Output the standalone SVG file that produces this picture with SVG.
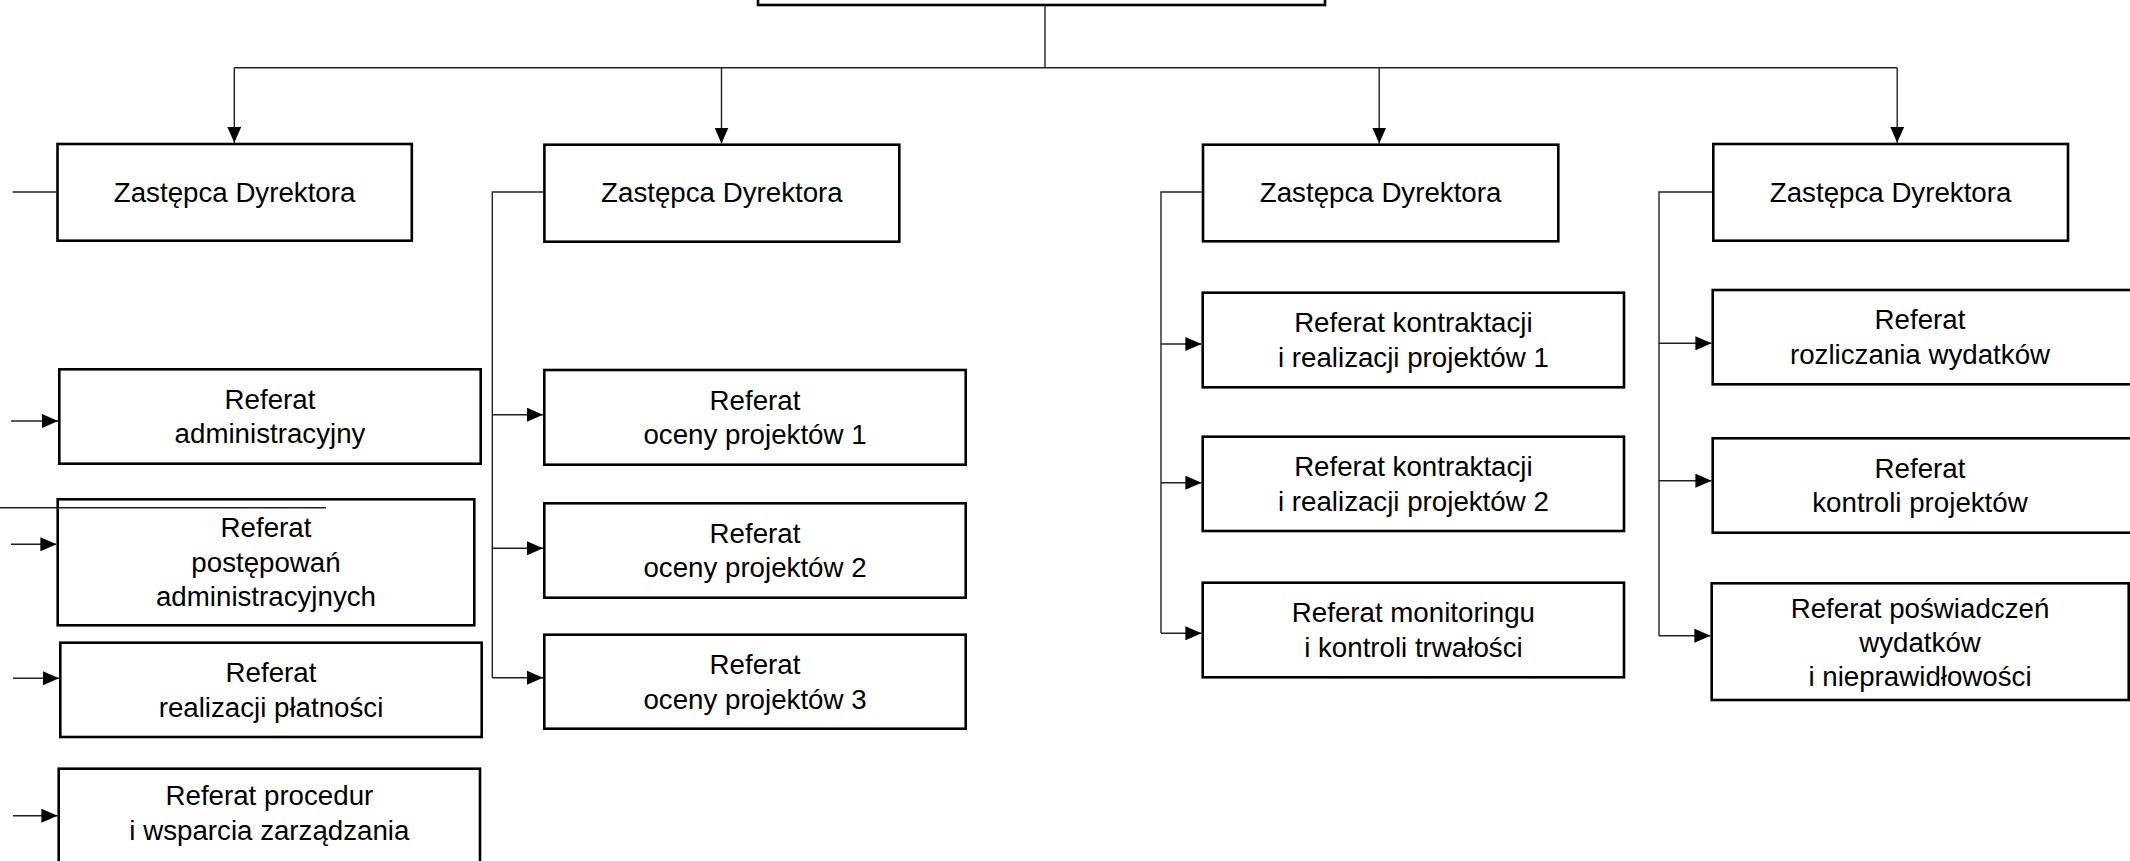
<svg xmlns="http://www.w3.org/2000/svg" width="2130" height="861" viewBox="0 0 2130 861">
<style>
.box{fill:#fff;stroke:#000;stroke-width:2.6}
.ln{fill:none;stroke:#222;stroke-width:1.4}
.t{font-family:"Liberation Sans",Arial,sans-serif;font-size:27.7px;fill:#000;text-anchor:middle}
</style>
<defs>
<marker id="ah" markerUnits="userSpaceOnUse" markerWidth="16" markerHeight="14" refX="16" refY="7" orient="auto">
<path d="M0,0 L16,7 L0,14 z" fill="#000"/>
</marker>
</defs>
<rect width="2130" height="861" fill="#fff"/>
<g id="top"><rect class="box" x="758" y="-60" width="567" height="65"/></g>
<g id="z1"><rect class="box" x="57.5" y="144" width="354.3" height="96.7"/><text class="t" x="234.6" y="202">Zastępca Dyrektora</text></g>
<g id="z2"><rect class="box" x="544.4" y="144.7" width="354.9" height="97"/><text class="t" x="721.9" y="202">Zastępca Dyrektora</text></g>
<g id="z3"><rect class="box" x="1203" y="144.7" width="355.3" height="96.6"/><text class="t" x="1380.6" y="202">Zastępca Dyrektora</text></g>
<g id="z4"><rect class="box" x="1713.3" y="144" width="354.7" height="96.7"/><text class="t" x="1890.6" y="202">Zastępca Dyrektora</text></g>
<g id="r-adm"><rect class="box" x="59.3" y="369.3" width="421.4" height="94.4"/><text class="t"><tspan x="270" y="408.7">Referat</tspan><tspan x="270" y="443.3">administracyjny</tspan></text></g>
<g id="r-post"><rect class="box" x="57.7" y="499.3" width="416.6" height="126"/><text class="t"><tspan x="266" y="537.2">Referat</tspan><tspan x="266" y="571.8">postępowań</tspan><tspan x="266" y="606.4">administracyjnych</tspan></text></g>
<g id="r-plat"><rect class="box" x="60.3" y="642.7" width="421.4" height="94.3"/><text class="t"><tspan x="271" y="682">Referat</tspan><tspan x="271" y="716.6">realizacji płatności</tspan></text></g>
<g id="r-proc"><rect class="box" x="58.7" y="768.7" width="421.3" height="110"/><text class="t"><tspan x="269.4" y="805">Referat procedur</tspan><tspan x="269.4" y="840">i wsparcia zarządzania</tspan></text></g>
<g id="o1"><rect class="box" x="544.3" y="370" width="421.4" height="94.7"/><text class="t"><tspan x="755" y="409.6">Referat</tspan><tspan x="755" y="444.2">oceny projektów 1</tspan></text></g>
<g id="o2"><rect class="box" x="544.3" y="503.3" width="421.4" height="94.4"/><text class="t"><tspan x="755" y="542.7">Referat</tspan><tspan x="755" y="577.3">oceny projektów 2</tspan></text></g>
<g id="o3"><rect class="box" x="544.3" y="634.7" width="421.4" height="94"/><text class="t"><tspan x="755" y="673.9">Referat</tspan><tspan x="755" y="708.5">oceny projektów 3</tspan></text></g>
<g id="k1"><rect class="box" x="1202.7" y="292.7" width="421.3" height="94.6"/><text class="t"><tspan x="1413.4" y="332.2">Referat kontraktacji</tspan><tspan x="1413.4" y="366.8">i realizacji projektów 1</tspan></text></g>
<g id="k2"><rect class="box" x="1202.7" y="436.7" width="421.3" height="94.3"/><text class="t"><tspan x="1413.4" y="476">Referat kontraktacji</tspan><tspan x="1413.4" y="510.6">i realizacji projektów 2</tspan></text></g>
<g id="mon"><rect class="box" x="1202.7" y="582.7" width="421.3" height="94.6"/><text class="t"><tspan x="1413.4" y="622.2">Referat monitoringu</tspan><tspan x="1413.4" y="656.8">i kontroli trwałości</tspan></text></g>
<g id="rozl"><rect class="box" x="1712.7" y="290" width="430" height="94.3"/><text class="t"><tspan x="1920" y="329.4">Referat</tspan><tspan x="1920" y="364">rozliczania wydatków</tspan></text></g>
<g id="kontr"><rect class="box" x="1712.7" y="438.3" width="430" height="94.4"/><text class="t"><tspan x="1920" y="477.7">Referat</tspan><tspan x="1920" y="512.3">kontroli projektów</tspan></text></g>
<g id="posw"><rect class="box" x="1711.7" y="583.3" width="417" height="116.7"/><text class="t"><tspan x="1920" y="617.5">Referat poświadczeń</tspan><tspan x="1920" y="651.6">wydatków</tspan><tspan x="1920" y="685.5">i nieprawidłowości</tspan></text></g>
<g id="connectors">
<path class="ln" d="M1045,6.3 V67.7"/>
<path class="ln" d="M234.3,67.7 H1897.2"/>
<path class="ln" d="M234.3,67.7 V142.8" marker-end="url(#ah)"/>
<path class="ln" d="M721.5,67.7 V143.5" marker-end="url(#ah)"/>
<path class="ln" d="M1379.2,67.7 V143.5" marker-end="url(#ah)"/>
<path class="ln" d="M1897.2,67.7 V142.8" marker-end="url(#ah)"/>
<path class="ln" d="M12.6,192 H56.2"/>
<path class="ln" d="M0,507.7 H326"/>
<path class="ln" d="M11,421 H58" marker-end="url(#ah)"/>
<path class="ln" d="M11,544.3 H56.4" marker-end="url(#ah)"/>
<path class="ln" d="M13,678.3 H59" marker-end="url(#ah)"/>
<path class="ln" d="M13,815.7 H57.4" marker-end="url(#ah)"/>
<path class="ln" d="M543.1,192 H492.3 V677.7"/>
<path class="ln" d="M492.3,414.7 H543" marker-end="url(#ah)"/>
<path class="ln" d="M492.3,548.3 H543" marker-end="url(#ah)"/>
<path class="ln" d="M492.3,677.7 H543" marker-end="url(#ah)"/>
<path class="ln" d="M1201.7,192 H1161 V633.3"/>
<path class="ln" d="M1161,344 H1201.4" marker-end="url(#ah)"/>
<path class="ln" d="M1161,482.7 H1201.4" marker-end="url(#ah)"/>
<path class="ln" d="M1161,633.3 H1201.4" marker-end="url(#ah)"/>
<path class="ln" d="M1712,192 H1659 V635.7"/>
<path class="ln" d="M1659,343.3 H1711.4" marker-end="url(#ah)"/>
<path class="ln" d="M1659,480.7 H1711.4" marker-end="url(#ah)"/>
<path class="ln" d="M1659,635.7 H1710.4" marker-end="url(#ah)"/>
</g>
</svg>
